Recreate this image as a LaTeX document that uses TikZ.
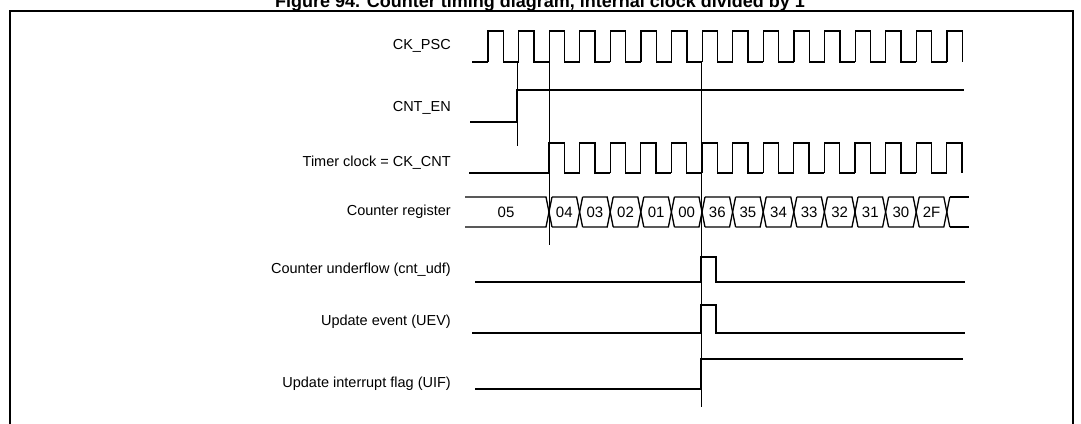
\documentclass[tikz,border=0pt]{standalone}
\usepackage{fontspec}
\setmainfont{Liberation Sans}
\begin{document}
\begin{tikzpicture}[x=1pt,y=-1pt,
  lbl/.style={anchor=east,font=\fontsize{14.5}{16}\selectfont,inner sep=0pt},
  val/.style={font=\fontsize{15}{16}\selectfont,inner sep=0pt},
  wave/.style={line width=1.3pt,line join=miter},
  vmark/.style={line width=0.8pt}]
\useasboundingbox (0,0) rectangle (1081,423);
\clip (0,0) rectangle (1081,423);
\node[font=\bfseries\fontsize{18}{20}\selectfont,anchor=base,inner sep=0pt] (title) at (540,7) {Figure 94. Counter timing diagram, internal clock divided by 1};
\draw[line width=1.3pt] (10,430) -- (10,11) -- (1073,11) -- (1073,430);
% labels
\node[lbl] (l1) at (451,46) {CK\_PSC};
\node[lbl] (l2) at (451,108) {CNT\_EN};
\node[lbl] (l3) at (451,163) {Timer clock = CK\_CNT};
\node[lbl] (l4) at (451,212) {Counter register};
\node[lbl] (l5) at (451,270) {Counter underflow (cnt\_udf)};
\node[lbl] (l6) at (451,322) {Update event (UEV)};
\node[lbl] (l7) at (451,384) {Update interrupt flag (UIF)};
% marker lines
\draw[vmark] (517,62) -- (517,146);
\draw[vmark] (549,62) -- (549,245);
\draw[vmark] (701,62) -- (701,407);
% CK_PSC
\draw[wave] (472,62) -- (488,62);
\foreach \k in {0,...,14}
  \draw[wave] ({488+30.6*\k},62) -- ({488+30.6*\k},31) -- ({503.3+30.6*\k},31) -- ({503.3+30.6*\k},62) -- ({518.6+30.6*\k},62);
\draw[wave] ({488+30.6*15},62) -- ({488+30.6*15},31) -- ({503.3+30.6*15},31) -- ({503.3+30.6*15},62);
% CNT_EN
\draw[wave] (470,122) -- (517,122) -- (517,90) -- (964,90);
% Timer clock
\draw[wave] (469,173) -- (549,173);
\foreach \k in {0,...,12}
  \draw[wave] ({549+30.6*\k},173) -- ({549+30.6*\k},143) -- ({564.3+30.6*\k},143) -- ({564.3+30.6*\k},173) -- ({579.6+30.6*\k},173);
\draw[wave] ({549+30.6*13},173) -- ({549+30.6*13},143) -- ({564.3+30.6*13},143) -- ({564.3+30.6*13},173);
% Counter register
\draw[wave] (465,197) -- (546,197) -- (552,227);
\draw[wave] (465,227) -- (546,227) -- (552,197);
\node[val] (v05) at (506,212) {05};
\foreach \k/\t in {0/04,1/03,2/02,3/01,4/00,5/36,6/35,7/34,8/33,9/32,10/31,11/30,12/2F} {
  \pgfmathsetmacro\a{549+30.6*\k}
  \pgfmathsetmacro\b{549+30.6*(\k+1)}
  \draw[wave] (\a+3,197) -- (\b-3,197) -- (\b+3,227);
  \draw[wave] (\a+3,227) -- (\b-3,227) -- (\b+3,197);
  \node[val] (v\k) at ({(\a+\b)/2},212) {\t};
}
\draw[wave] ({549+30.6*13+3},197) -- (969,197);
\draw[wave] ({549+30.6*13+3},227) -- (969,227);
% cnt_udf
\draw[wave] (475,282) -- (701,282) -- (701,257) -- (716,257) -- (716,282) -- (965,282);
% UEV
\draw[wave] (472,333) -- (701,333) -- (701,305) -- (716,305) -- (716,333) -- (965,333);
% UIF
\draw[wave] (475,389) -- (701,389) -- (701,359) -- (963,359);
\end{tikzpicture}
\end{document}
